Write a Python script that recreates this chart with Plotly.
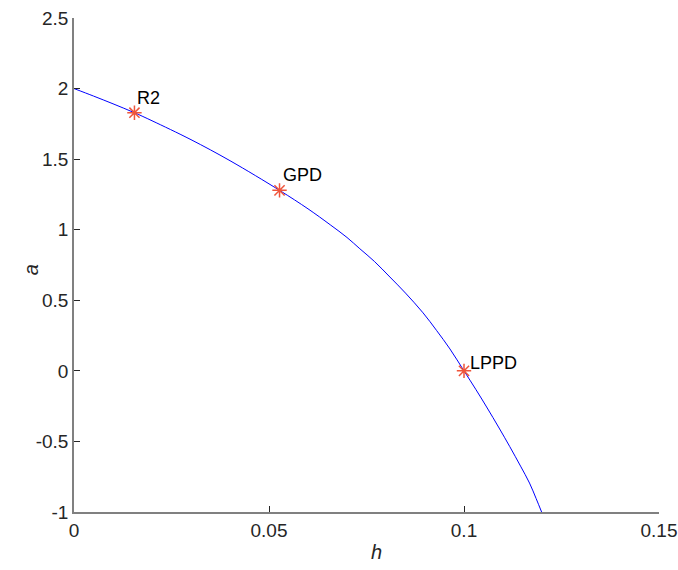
import plotly.graph_objects as go

# curve
h_curve = [0, 0.005, 0.01, 0.0155, 0.02, 0.03, 0.04, 0.0527, 0.06, 0.0657, 0.07,
           0.0733, 0.077, 0.081, 0.085, 0.0895, 0.093, 0.0964, 0.1, 0.103, 0.1058,
           0.109, 0.1117, 0.1145, 0.1168, 0.1185, 0.1199]
a_curve = [2.0, 1.947, 1.892, 1.829, 1.772, 1.638, 1.489, 1.279, 1.148, 1.035, 0.945,
           0.865, 0.776, 0.665, 0.551, 0.411, 0.285, 0.155, 0.0, -0.13, -0.256,
           -0.405, -0.535, -0.675, -0.795, -0.905, -1.0]

# labelled points
pt_labels = ["R2", "GPD", "LPPD"]
pt_h = [0.0155, 0.0527, 0.1]
pt_a = [1.829, 1.279, 0.0]

x_ticks = [0, 0.05, 0.1, 0.15]
x_ticktext = ["0", "0.05", "0.1", "0.15"]
y_ticks = [-1, -0.5, 0, 0.5, 1, 1.5, 2, 2.5]
y_ticktext = ["-1", "-0.5", "0", "0.5", "1", "1.5", "2", "2.5"]
x_title = "h"
y_title = "a"

FONT = "Liberation Sans, Arial, sans-serif"
TXT = "#262626"
AX = "#808080"

fig = go.Figure()
fig.add_trace(go.Scatter(x=h_curve, y=a_curve, mode="lines", line_shape="spline",
                         line=dict(color="#0000ff", width=1), showlegend=False,
                         hoverinfo="skip"))
fig.add_trace(go.Scatter(x=pt_h, y=pt_a, mode="markers",
                         marker=dict(symbol="asterisk-open", size=12,
                                     line=dict(color="#ff0000", width=1.5)),
                         showlegend=False))

shifts = {"R2": (1, 15), "GPD": (1, 15), "LPPD": (4, 8)}
for lab, hx, ay in zip(pt_labels, pt_h, pt_a):
    dx, dy = shifts[lab]
    fig.add_annotation(x=hx, y=ay, text=lab, showarrow=False, xanchor="left",
                       yanchor="middle", xshift=dx, yshift=dy,
                       font=dict(family=FONT, size=18, color="#000000"))

# axis titles as paper annotations
fig.add_annotation(xref="paper", yref="paper", x=0.517, y=-0.081,
                   text="<i>%s</i>" % x_title, showarrow=False,
                   xanchor="center", yanchor="middle",
                   font=dict(family=FONT, size=20, color=TXT))
fig.add_annotation(xref="paper", yref="paper", x=-0.073, y=0.49,
                   text="<i>%s</i>" % y_title, showarrow=False, textangle=-90,
                   xanchor="center", yanchor="middle",
                   font=dict(family=FONT, size=20, color=TXT))

fig.update_layout(
    width=678, height=570,
    margin=dict(l=73.5, r=18.5, t=17.5, b=58, autoexpand=False),
    paper_bgcolor="white", plot_bgcolor="white",
    font=dict(family=FONT, size=19, color=TXT),
)
fig.update_xaxes(range=[0, 0.15], tickvals=x_ticks, ticktext=x_ticktext,
                 automargin=False,
                 showgrid=False, zeroline=False, showline=True, linecolor=AX,
                 linewidth=1.5, ticks="inside", ticklen=6, tickcolor=TXT,
                 tickfont=dict(family=FONT, size=19, color=TXT))
fig.update_yaxes(range=[-1, 2.5], tickvals=y_ticks, ticktext=y_ticktext,
                 automargin=False,
                 showgrid=False, zeroline=False, showline=True, linecolor=AX,
                 linewidth=1.5, ticks="inside", ticklen=6, tickcolor=TXT,
                 tickfont=dict(family=FONT, size=19, color=TXT))

fig.write_html("out.html", config={"displayModeBar": False},
               post_script="document.body.style.margin='0';document.body.style.overflow='hidden';")
